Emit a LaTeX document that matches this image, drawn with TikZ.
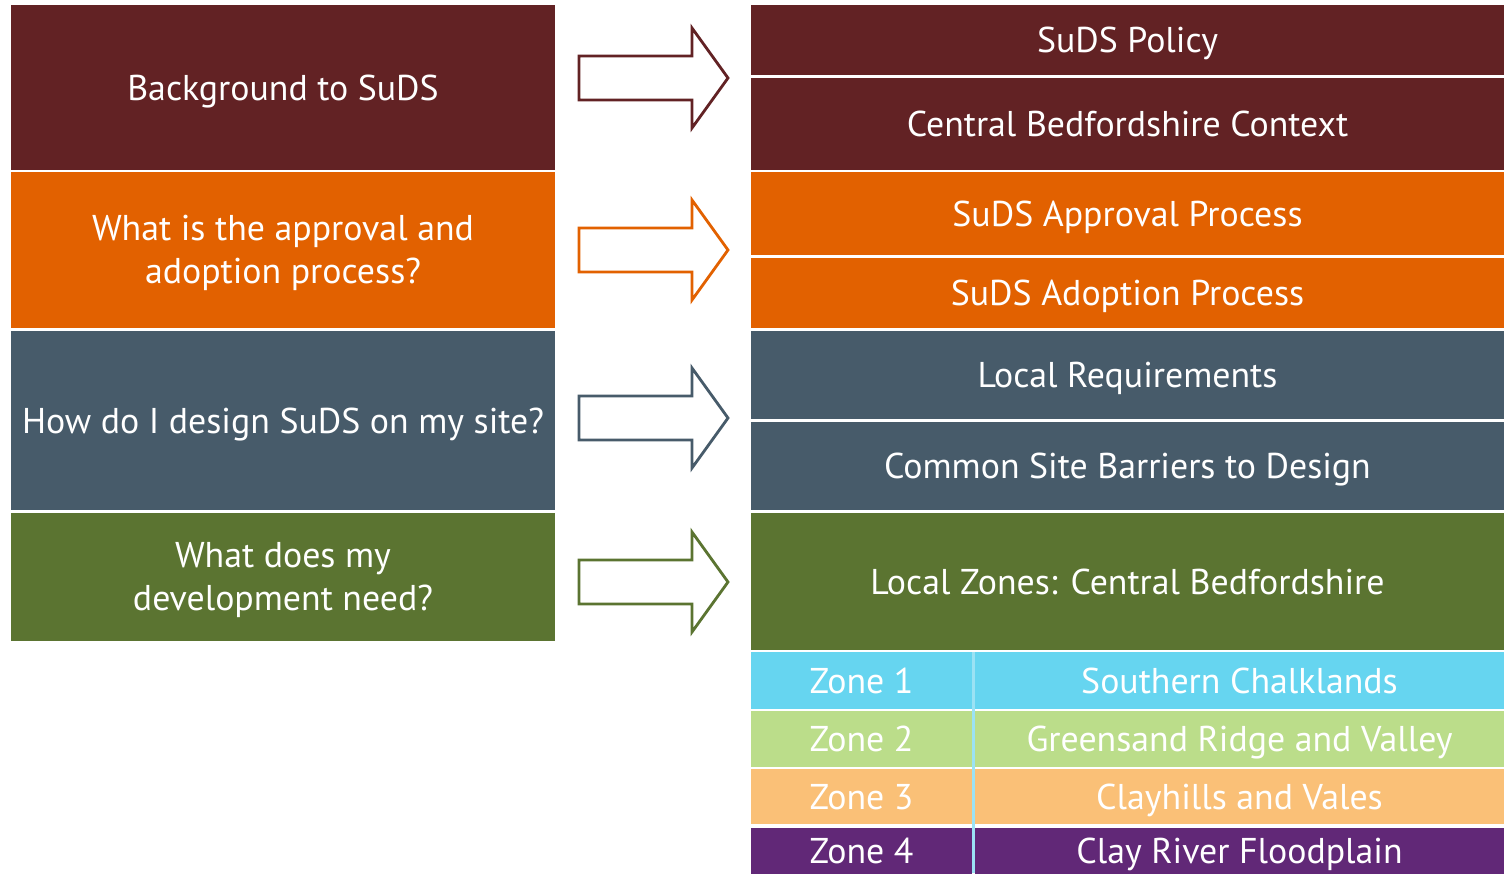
\documentclass[tikz,border=0pt]{standalone}
\usepackage{fontspec}
\setmainfont{PT Sans}

\definecolor{sudsred}{HTML}{622224}
\definecolor{sudsorange}{HTML}{E26100}
\definecolor{sudsslate}{HTML}{475B6A}
\definecolor{sudsgreen}{HTML}{5B7431}
\definecolor{zoneblue}{HTML}{66D5F0}
\definecolor{zonegreen}{HTML}{BBDD8A}
\definecolor{zoneorange}{HTML}{FAC077}
\definecolor{zonepurple}{HTML}{612877}
\definecolor{zoneline}{HTML}{9BE2F4}

\newcommand{\boxfont}{\fontsize{20.4}{24.5}\selectfont}

\tikzset{
    cell/.style = {fill = #1, text = white, inner sep = 0pt, outer sep = 0pt,
                   font = \boxfont, align = center},
    oneline/.style = {text height = 14.3pt, text depth = 0pt},
    twolines/.style = {font = \boxfont, text = white, align = center},
    leftcell/.style = {cell = #1, minimum width = 10.88cm},
    rightcell/.style = {cell = #1, oneline, minimum width = 15.06cm},
    blockarrow/.style = {draw = #1, fill = white, line width = 1.6pt, line join = miter}
}

\begin{document}
\begin{tikzpicture}[x = 0.02cm, y = -0.02cm]
    \useasboundingbox (0,0) rectangle (1504,873);

    % questions on the left
    \node[leftcell = sudsred, oneline, minimum height = 3.30cm] (background) at (283,87.5) {Background to SuDS};
    \node[leftcell = sudsorange, minimum height = 3.12cm] (approval) at (283,250) {};
    \node[twolines] (approvaltext) at (283,253) {What is the approval and\\adoption process?};
    \node[leftcell = sudsslate, oneline, minimum height = 3.58cm] (design) at (283,420.5) {How do I design SuDS on my site?};
    \node[leftcell = sudsgreen, minimum height = 2.56cm] (need) at (283,577) {};
    \node[twolines] (needtext) at (283,580) {What does my\\development need?};

    % sections on the right
    \node[rightcell = sudsred, minimum height = 1.40cm] (policy) at (1127.5,40) {SuDS Policy};
    \node[rightcell = sudsred, minimum height = 1.84cm] (context) at (1127.5,124) {Central Bedfordshire Context};
    \node[rightcell = sudsorange, minimum height = 1.66cm] (approvalproc) at (1127.5,213.5) {SuDS Approval Process};
    \node[rightcell = sudsorange, minimum height = 1.40cm] (adoptionproc) at (1127.5,293) {SuDS Adoption Process};
    \node[rightcell = sudsslate, minimum height = 1.76cm] (localreq) at (1127.5,375) {Local Requirements};
    \node[rightcell = sudsslate, minimum height = 1.76cm] (barriers) at (1127.5,466) {Common Site Barriers to Design};
    \node[rightcell = sudsgreen, minimum height = 2.74cm] (zones) at (1127.5,581.5) {Local Zones: Central Bedfordshire};

    % zone table
    \foreach \n/\y/\h/\col/\area in {1/680.5/1.14/zoneblue/Southern Chalklands,
                                     2/739/1.12/zonegreen/Greensand Ridge and Valley,
                                     3/796.5/1.10/zoneorange/Clayhills and Vales,
                                     4/851/0.92/zonepurple/Clay River Floodplain}
    {
        \node[cell = \col, oneline, minimum width = 4.42cm, minimum height = \h cm] (zone\n) at (861.5,\y) {Zone \n};
        \node[cell = \col, oneline, minimum width = 10.58cm, minimum height = \h cm] (area\n) at (1239.5,\y) {\area};
    }
    \fill[zoneline] (972,652) rectangle (975,873);

    % arrows from question to section
    \foreach \y/\col in {78/sudsred, 250/sudsorange, 418/sudsslate, 582/sudsgreen}
        \draw[blockarrow = \col] (579,{\y-22}) -- (692,{\y-22}) -- (692,{\y-50}) -- (728,\y)
            -- (692,{\y+50}) -- (692,{\y+22}) -- (579,{\y+22}) -- cycle;
\end{tikzpicture}
\end{document}
